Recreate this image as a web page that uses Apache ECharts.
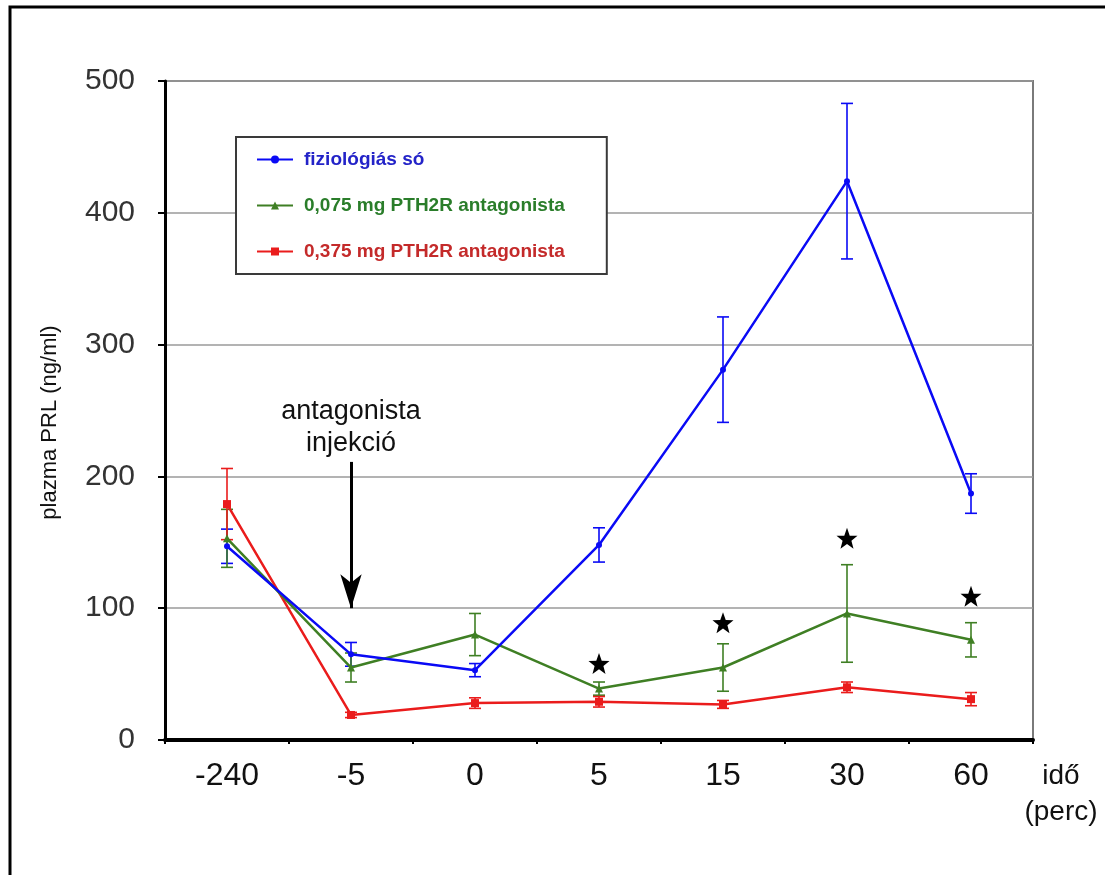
<!DOCTYPE html>
<html>
<head>
<meta charset="utf-8">
<script src="https://cdn.jsdelivr.net/npm/echarts@6/dist/echarts.min.js"></script>
<style>
  html, body { margin: 0; padding: 0; background: #fff; }
  #chart { width: 1105px; height: 875px; }
</style>
</head>
<body>
<div id="chart"></div>
<script>
// ---- data ----
const categories = ['-240', '-5', '0', '5', '15', '30', '60'];
const seriesNames = ['fiziológiás só', '0,075 mg PTH2R antagonista', '0,375 mg PTH2R antagonista'];
const salineMean = [147, 65, 53, 148, 281, 424, 187];
const salineErr  = [13, 9, 5, 13, 40, 59, 15];
const lowDoseMean = [153, 55, 80, 39, 55, 96, 76];
const lowDoseErr  = [22, 11, 16, 5, 18, 37, 13];
const highDoseMean = [179, 19, 28, 29, 27, 40, 31];
const highDoseErr  = [27, 2, 4, 4, 3, 4, 5];
const starCategories = ['5', '15', '30', '60'];
const starValues = [58, 89, 153, 109];
const yTicks = [0, 100, 200, 300, 400, 500];
const arrowCategory = '-5';
const arrowFrom = 211;
const arrowTo = 100;
const arrowLabel = 'antagonista\ninjekció';

const COLORS = ['#0a0af5', '#3f7f24', '#ea1c1c'];
const TEXT_COLORS = ['#2323c8', '#2a7d2a', '#c42a2a'];

function errData(mean, err) {
  return mean.map((m, i) => [i, m - err[i], m + err[i]]);
}
function errSeries(mean, err, color) {
  return {
    type: 'custom',
    silent: true,
    z: 1,
    data: errData(mean, err),
    encode: { x: 0, y: [1, 2] },
    renderItem: function (params, api) {
      const x = api.value(0);
      const lo = api.coord([x, api.value(1)]);
      const hi = api.coord([x, api.value(2)]);
      const w = 6;
      const st = { stroke: color, lineWidth: 1.6 };
      return {
        type: 'group',
        children: [
          { type: 'line', shape: { x1: lo[0], y1: lo[1], x2: hi[0], y2: hi[1] }, style: st },
          { type: 'line', shape: { x1: lo[0] - w, y1: lo[1], x2: lo[0] + w, y2: lo[1] }, style: st },
          { type: 'line', shape: { x1: hi[0] - w, y1: hi[1], x2: hi[0] + w, y2: hi[1] }, style: st }
        ]
      };
    }
  };
}

const starPath = 'path://M50,0 L63,36 L100,37 L71,60 L81,97 L50,75 L19,97 L29,60 L0,37 L37,36 Z';

const chart = echarts.init(document.getElementById('chart'), null, { renderer: 'canvas' });

const option = {
  animation: false,
  backgroundColor: '#ffffff',
  grid: {
    left: 165, right: 72, top: 81, bottom: 135,
    show: true, borderColor: '#7a7a7a', borderWidth: 2, backgroundColor: 'transparent'
  },
  legend: {
    data: seriesNames.map((n, i) => ({ name: n, textStyle: { color: TEXT_COLORS[i] } })),
    orient: 'vertical',
    left: 236, top: 137,
    padding: [13, 42, 13, 20],
    itemGap: 27,
    itemWidth: 36,
    itemHeight: 10,
    borderColor: '#3a3a3a',
    borderWidth: 2,
    backgroundColor: '#fff',
    textStyle: { fontFamily: 'Liberation Sans, Arial, sans-serif', fontSize: 19, fontWeight: 'bold', padding: [0, 0, 0, 6] }
  },
  xAxis: [{
    type: 'category',
    data: categories,
    boundaryGap: true,
    axisLine: { lineStyle: { color: '#000', width: 4 } },
    axisTick: { alignWithLabel: true, length: 12, lineStyle: { color: '#000', width: 3 } },
    axisLabel: { fontFamily: 'Liberation Sans, Arial, sans-serif', fontSize: 32, color: '#111', margin: 20 },
    splitLine: { show: false },
    name: 'idő\n(perc)',
    nameLocation: 'end',
    nameGap: 28,
    nameTextStyle: { fontFamily: 'Liberation Sans, Arial, sans-serif', fontSize: 28, color: '#111', align: 'center', verticalAlign: 'top', lineHeight: 36, padding: [18, 0, 0, 0] }
  }, {
    type: 'category',
    data: categories,
    boundaryGap: true,
    position: 'bottom',
    axisLine: { show: false },
    axisTick: { show: true, length: 4, lineStyle: { color: '#000', width: 2 } },
    axisLabel: { show: false },
    splitLine: { show: false }
  }],
  yAxis: {
    type: 'value',
    min: 0, max: 500, interval: 100,
    axisLine: { show: true, lineStyle: { color: '#000', width: 3 } },
    axisTick: { show: true, length: 7, lineStyle: { color: '#000', width: 2 } },
    axisLabel: {
      fontFamily: 'Liberation Sans, Arial, sans-serif', fontSize: 30, color: '#333', margin: 30,
      formatter: v => (yTicks.indexOf(v) >= 0 ? String(v) : '')
    },
    splitLine: { lineStyle: { color: '#9a9a9a', width: 1.5 } },
    name: 'plazma PRL (ng/ml)',
    nameLocation: 'middle',
    nameGap: 104,
    nameRotate: 90,
    nameTextStyle: { fontFamily: 'Liberation Sans, Arial, sans-serif', fontSize: 22, color: '#111', padding: [0, 24, 0, 0] }
  },
  series: [
    errSeries(salineMean, salineErr, COLORS[0]),
    errSeries(lowDoseMean, lowDoseErr, COLORS[1]),
    errSeries(highDoseMean, highDoseErr, COLORS[2]),
    {
      name: seriesNames[0], type: 'line', data: salineMean, z: 4,
      symbol: 'circle', symbolSize: 6,
      lineStyle: { color: COLORS[0], width: 2.5 }, itemStyle: { color: COLORS[0] },
      markLine: {
        silent: true,
        symbol: ['none', 'arrow'],
        symbolSize: [16, 34],
        lineStyle: { color: '#000', width: 3, type: 'solid' },
        label: {
          show: true, position: 'start', formatter: arrowLabel,
          fontFamily: 'Liberation Sans, Arial, sans-serif', fontSize: 27, color: '#111', lineHeight: 32, distance: 2
        },
        data: [[{ xAxis: arrowCategory, yAxis: arrowFrom }, { xAxis: arrowCategory, yAxis: arrowTo }]]
      }
    },
    {
      name: seriesNames[1], type: 'line', data: lowDoseMean, z: 3,
      symbol: 'triangle', symbolSize: 8,
      lineStyle: { color: COLORS[1], width: 2.5 }, itemStyle: { color: COLORS[1] }
    },
    {
      name: seriesNames[2], type: 'line', data: highDoseMean, z: 2,
      symbol: 'rect', symbolSize: 8,
      lineStyle: { color: COLORS[2], width: 2.5 }, itemStyle: { color: COLORS[2] }
    },
    {
      name: 'stars', type: 'scatter', z: 5, silent: true,
      symbol: starPath, symbolSize: 21,
      itemStyle: { color: '#000', opacity: 1 },
      data: starCategories.map((c, i) => [c, starValues[i]])
    }
  ],
  graphic: [{
    type: 'polyline',
    shape: { points: [[10, 875], [10, 7], [1105, 7]] },
    style: { stroke: '#000', lineWidth: 3, fill: null },
    silent: true
  }]
};

chart.setOption(option);
</script>
</body>
</html>
